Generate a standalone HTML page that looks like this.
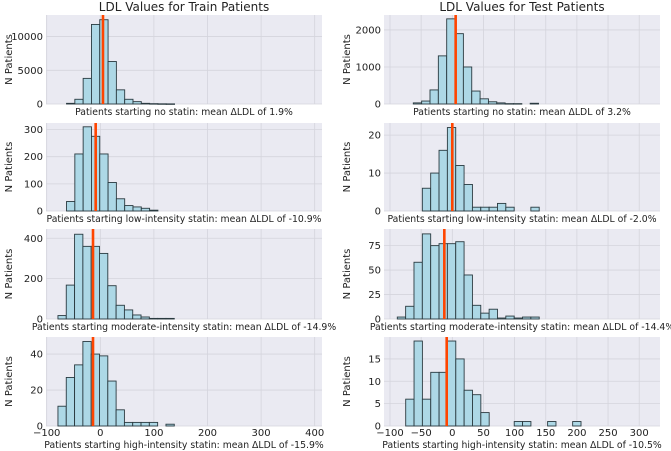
<!DOCTYPE html>
<html><head><meta charset="utf-8">
<style>
html,body{margin:0;padding:0;background:#fff;}
svg{display:block;font-family:"DejaVu Sans","Liberation Sans",sans-serif;}
</style></head>
<body>
<svg id="chart" width="671" height="451" viewBox="0 0 671 451"></svg>
<script>
// Panel data: bin start, bin width (data units), counts, mean line value
const trainNoCounts = [100,700,3800,11800,12500,6300,2100,700,350,100,50,30,20];
const trainLowCounts = [35,210,310,275,210,105,45,20,15,10,3];
const trainModCounts = [17,168,420,360,360,325,165,68,45,20,10,3,3,3];
const trainHighCounts = [11,27,34,47,40,39,25,9,2,2,2,2,0,1];
const testNoCounts = [30,80,380,1300,2300,1900,1000,350,140,60,30,10,10,0,20];
const testLowCounts = [6,10,16,22,12,7,1,1,1,2,1,0,0,1];
const testModCounts = [2,13,58,87,75,77,77,79,45,14,6,10,1,3,1,2,2];
const testHighCounts = [6,19,6,12,12,19,15,8,7,3,0,0,0,1,1,0,0,1,0,0,1];
const binStarts = [-63,-63,-79,-79,-62.6,-48.1,-88.3,-74.8];
const binWidths = [15.5,15.5,15.5,15.5,13.4,13.4,13.4,13.4];
const meanLines = [5,-8.6,-13.6,-13.6,5.4,0,-12.8,-9];
const yMaxes = [13200,324,446,49.5,2404,23.2,92,19.9];
const yTicks = [[0,5000,10000],[0,100,200,300],[0,200,400],[0,20,40],[0,1000,2000],[0,10,20],[0,25,50,75],[0,5,10,15]];
const xTicksLeft = [-100,0,100,200,300,400];
const xTicksRight = [-100,-50,0,50,100,150,200,250,300];
const xLabels = ["Patients starting no statin: mean \u0394LDL of 1.9%","Patients starting low-intensity statin: mean \u0394LDL of -10.9%","Patients starting moderate-intensity statin: mean \u0394LDL of -14.9%","Patients starting high-intensity statin: mean \u0394LDL of -15.9%","Patients starting no statin: mean \u0394LDL of 3.2%","Patients starting low-intensity statin: mean \u0394LDL of -2.0%","Patients starting moderate-intensity statin: mean \u0394LDL of -14.4%","Patients starting high-intensity statin: mean \u0394LDL of -10.5%"];
const allCounts = [trainNoCounts,trainLowCounts,trainModCounts,trainHighCounts,testNoCounts,testLowCounts,testModCounts,testHighCounts];

const svg = document.getElementById('chart');
const NS = 'http://www.w3.org/2000/svg';
function mk(tag, attrs, parent){const e=document.createElementNS(NS,tag);for(const k in attrs)e.setAttribute(k,attrs[k]);(parent||svg).appendChild(e);return e;}

const rows = [[15,104],[123,211],[229,319],[337,426]];
const cols = [{x0:46,x1:322,px0:46.7,sc:0.536,ticks:xTicksLeft},{x0:384,x1:660,px0:390,sc:0.623,ticks:xTicksRight}];
const names = ['train-no-statin','train-low-intensity','train-moderate-intensity','train-high-intensity','test-no-statin','test-low-intensity','test-moderate-intensity','test-high-intensity'];

let t = mk('text',{x:184,y:11,'text-anchor':'middle','font-size':12,fill:'#222'});
t.textContent='LDL Values for Train Patients';


t = mk('text',{x:522,y:11,'text-anchor':'middle','font-size':12,fill:'#222'});
t.textContent='LDL Values for Test Patients';



for(let p=0;p<8;p++){
  const c = cols[Math.floor(p/4)], r = rows[p%4];
  const xs = v => c.px0 + (v+100)*c.sc;
  const ys = v => r[1] - v/yMaxes[p]*(r[1]-r[0]);
  const g = mk('g',{});
  
  
  mk('rect',{x:c.x0,y:r[0],width:c.x1-c.x0,height:r[1]-r[0],fill:'#eaeaf2'},g);
  c.ticks.forEach(v=>{mk('line',{x1:xs(v),x2:xs(v),y1:r[0],y2:r[1],stroke:'#d4d4dc','stroke-width':0.8},g);});
  yTicks[p].forEach(v=>{
    mk('line',{x1:c.x0,x2:c.x1,y1:ys(v),y2:ys(v),stroke:'#d4d4dc','stroke-width':0.8},g);
    const tl = mk('text',{x:c.x0-3,y:ys(v)+3.5,'text-anchor':'end','font-size':10,fill:'#222'},g);
    tl.textContent=v;
    
    
  });
  allCounts[p].forEach((n,i)=>{
    if(n<=0) return;
    const v0 = binStarts[p]+i*binWidths[p];
    const b = mk('rect',{x:xs(v0),y:ys(n),width:binWidths[p]*c.sc,height:Math.max(0.5,ys(0)-ys(n)),fill:'#add8e6',stroke:'#2a3a40','stroke-width':0.9},g);
    
    
  });
  const ml = mk('line',{x1:xs(meanLines[p]),x2:xs(meanLines[p]),y1:r[0],y2:r[1],stroke:'#ff4500','stroke-width':2.6},g);
  
  
  const yl = mk('text',{x:0,y:0,'text-anchor':'middle','font-size':10,fill:'#222',transform:`translate(${c.x0-34},${(r[0]+r[1])/2}) rotate(-90)`},g);
  yl.textContent='N Patients';
  
  
  if(p%4===3){
    c.ticks.forEach(v=>{
      const xt = mk('text',{x:xs(v),y:r[1]+10,'text-anchor':'middle','font-size':10,fill:'#222'},g);
      xt.textContent = v<0 ? '\u2212'+(-v) : v;
      
      
    });
  }
  const xl = mk('text',{x:(c.x0+c.x1)/2,y:(p%4===3)?r[1]+22:r[1]+11,'text-anchor':'middle','font-size':9.3,fill:'#222'},g);
  xl.textContent = xLabels[p];
  
  
}
</script>
</body></html>
